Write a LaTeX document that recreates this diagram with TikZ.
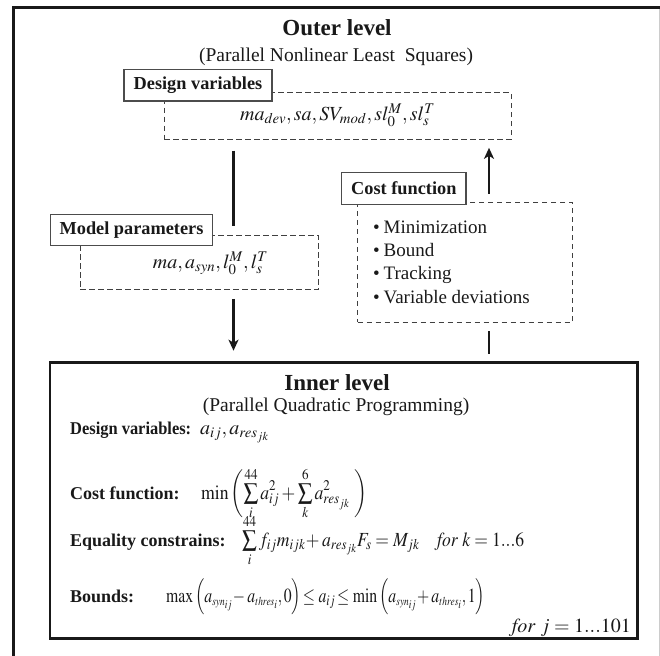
\documentclass[tikz,border=0pt]{standalone}
\usepackage{mathptmx}
\usepackage{graphicx}
\usepackage[no-math]{fontspec}
\setmainfont{Liberation Serif}
\usetikzlibrary{arrows.meta,calc}
\newcommand{\smallsumop}{\mathop{\vcenter{\hbox{\scalebox{0.82}{$\displaystyle\sum$}}}}\limits}
\begin{document}
\begin{tikzpicture}[x=1pt,y=-1pt,
  fr/.style={line width=3pt, black!90},
  lbl/.style={draw=black!70, line width=1.1pt, fill=white, inner sep=0pt, font=\bfseries\fontsize{18.3}{20}\selectfont, text=black!90},
  dbox/.style={draw=black!75, line width=1pt, dash pattern=on 5.5pt off 3.5pt, inner sep=0pt},
  flow/.style={line width=2.6pt, black!90},
  arr/.style={flow, -{Stealth[length=11pt,width=10pt,inset=3pt]}},
  ttl/.style={font=\bfseries\fontsize{23}{25}\selectfont, text=black!90},
  sub/.style={font=\fontsize{19.5}{21}\selectfont, text=black!90},
  mth/.style={font=\fontsize{20}{22}\selectfont, inner sep=0pt, text=black!90},
  item/.style={font=\fontsize{19}{21}\selectfont, anchor=base west, inner sep=0pt, text=black!90},
  ilbl/.style={font=\bfseries\fontsize{18}{20}\selectfont, anchor=base west, inner sep=0pt, text=black!90},
  imth/.style={mth, anchor=base west}
]
\useasboundingbox (0,0) rectangle (660,655);
\draw[fr] (13.5,658) -- (13.5,8) -- (662,8);
\draw[black!20, line width=1pt] (659,9.5) -- (659,658);

% outer level
\node[ttl] (otitle) at (337,28) {Outer level};
\node[sub] (osub) at (336,57) {(Parallel Nonlinear Least\ \ Squares)};

\node[dbox, minimum width=347pt, minimum height=46.7pt] (dvbox) at (337.5,115.7) {};
\node[lbl, minimum width=148pt, minimum height=31.7pt] (dvlbl) at (198,85.2) {Design variables};
\node[mth] (dvmath) at (337.5,115) {$ma_{dev}, sa, SV_{mod}, sl_0^M, sl_s^T$};

\node[dbox, minimum width=238.6pt, minimum height=53.3pt] (mpbox) at (199.3,262.35) {};
\node[lbl, minimum width=162pt, minimum height=31.4pt] (mplbl) at (131.5,230) {Model parameters};
\node[mth] (mpmath) at (210.5,263) {$ma,a_{syn},l_0^M,l_s^T$};

\node[dbox, minimum width=214.7pt, minimum height=120pt] (cfbox) at (465,262.3) {};
\node[lbl, minimum width=124.3pt, minimum height=31.6pt] (cflbl) at (403.85,188.5) {Cost function};
\node[item] (i1) at (373,233) {•\hspace{0.2em}Minimization};
\node[item] (i2) at (373,256.3) {•\hspace{0.2em}Bound};
\node[item] (i3) at (373,279.6) {•\hspace{0.2em}Tracking};
\node[item] (i4) at (373,303) {•\hspace{0.2em}Variable deviations};

% inner level
\node[draw=black!90, line width=2.6pt, minimum width=587.5pt, minimum height=275.8pt, inner sep=0pt] (inner) at (343.75,500.6) {};
\node[ttl] (ititle) at (337,383) {Inner level};
\node[sub] (isub) at (336,406.7) {(Parallel Quadratic Programming)};
\node[ilbl] (l1) at (70,434) {\resizebox{121pt}{\height}{Design variables:}};
\node[imth] (m1) at (200,434) {$a_{ij}, a_{res_{jk}}$};
\node[ilbl] (l2) at (70,499) {Cost function:};
\node[imth] (m2) at (201,499) {\resizebox{166pt}{\height}{$\displaystyle \min\left(\smallsumop_i^{44} a_{ij}^2 + \smallsumop_k^{6} a_{res_{jk}}^2\ \right)$}};
\node[ilbl] (l3) at (70,546) {Equality constrains:};
\node[imth] (m3) at (242,546) {\resizebox{282pt}{\height}{$\displaystyle\smallsumop_i^{44} f_{ij} m_{ijk}\!+ a_{res_{jk}} F_s = M_{jk} \quad \mathit{for}\ k = 1...6$}};
\node[ilbl] (l4) at (70,602) {Bounds:};
\node[imth] (m4) at (166,602) {\resizebox{319pt}{\height}{$\max\left(\vrule height 17pt depth 9pt width 0pt a_{\scriptscriptstyle syn_{ij}}\!-a_{\scriptscriptstyle thres_i},0\right)\!\le a_{ij}\!\le \min\left(\vrule height 17pt depth 9pt width 0pt a_{\scriptscriptstyle syn_{ij}}\!+a_{\scriptscriptstyle thres_i},1\right)$}};
\node[imth, anchor=base east] (m5) at (631,632) {$\mathit{for}\ j = 1...101$};

% connectors
\coordinate (cL) at (233.5,0);
\coordinate (cR) at (489,0);
\draw[flow, shorten <=11pt, shorten >=9pt] (cL |- dvbox.south) -- (cL |- mpbox.north);
\draw[arr, shorten <=9.3pt, shorten >=10.7pt] (cL |- mpbox.south) -- (cL |- inner.north);
\draw[arr, shorten <=8pt, shorten >=8.3pt] (cR |- cfbox.north) -- (cR |- dvbox.south);
\draw[flow, shorten <=7.7pt, shorten >=7.7pt] (cR |- inner.north) -- (cR |- cfbox.south);
\end{tikzpicture}
\end{document}
